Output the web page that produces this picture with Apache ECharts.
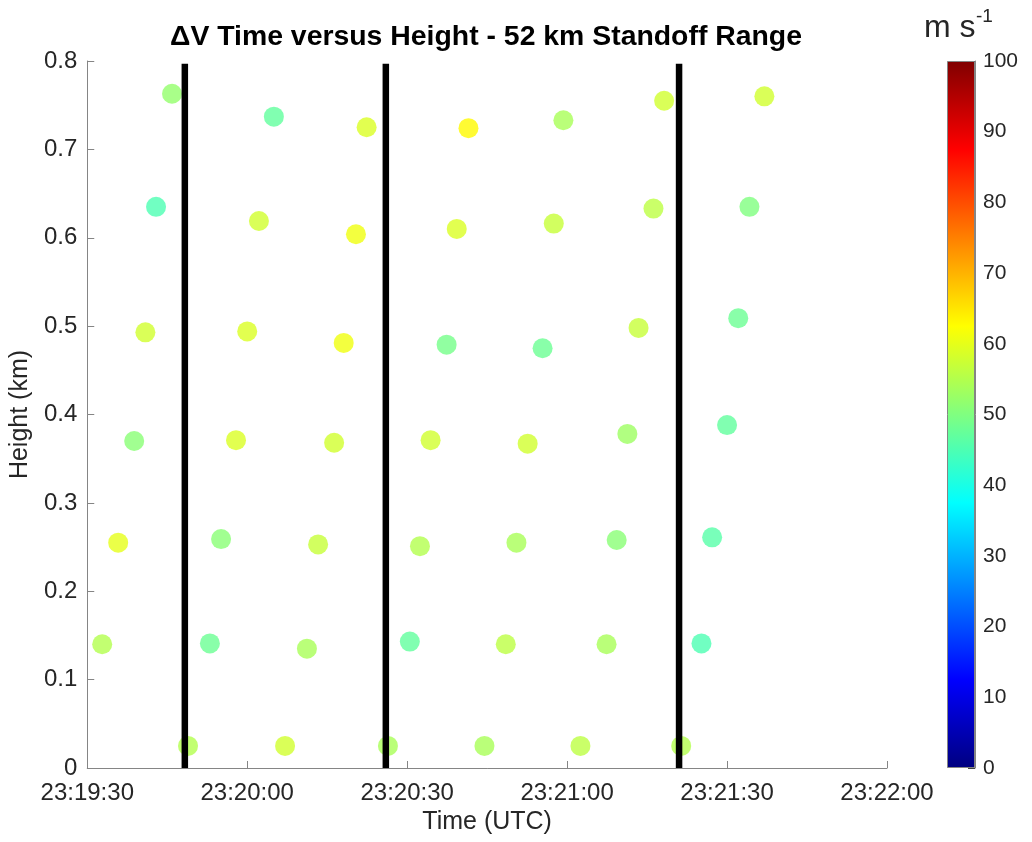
<!DOCTYPE html>
<html>
<head>
<meta charset="utf-8">
<script src="https://cdn.jsdelivr.net/npm/echarts@6/dist/echarts.min.js"></script>
<style>
html, body { margin: 0; padding: 0; background: #fff; }
#chart { width: 1032px; height: 842px; }
</style>
</head>
<body>
<div id="chart"></div>
<script>
// sample times (UTC), heights (km) and delta V (m/s), one row of heights at a time
var pointTimes = [
    '23:19:48.9', '23:20:07.1', '23:20:26.4', '23:20:44.5', '23:21:02.5', '23:21:21.4',
    '23:19:32.8', '23:19:53.0', '23:20:11.2', '23:20:30.5', '23:20:48.5', '23:21:07.4', '23:21:25.2',
    '23:19:35.8', '23:19:55.1', '23:20:13.3', '23:20:32.4', '23:20:50.5', '23:21:09.3', '23:21:27.2',
    '23:19:38.8', '23:19:57.9', '23:20:16.3', '23:20:34.4', '23:20:52.6', '23:21:11.3', '23:21:30.0',
    '23:19:40.9', '23:20:00.0', '23:20:18.1', '23:20:37.4', '23:20:55.4', '23:21:13.4', '23:21:32.1',
    '23:19:42.9', '23:20:02.2', '23:20:20.4', '23:20:39.3', '23:20:57.5', '23:21:16.2', '23:21:34.2',
    '23:19:45.9', '23:20:05.0', '23:20:22.4', '23:20:41.5', '23:20:59.3', '23:21:18.2', '23:21:37.0'
];
var pointHeights = [
    0.025, 0.025, 0.025, 0.025, 0.025, 0.025,
    0.140, 0.141, 0.135, 0.143, 0.140, 0.140, 0.141,
    0.255, 0.259, 0.253, 0.251, 0.255, 0.258, 0.261,
    0.370, 0.371, 0.368, 0.371, 0.367, 0.378, 0.388,
    0.493, 0.494, 0.481, 0.479, 0.475, 0.498, 0.509,
    0.635, 0.619, 0.604, 0.610, 0.616, 0.633, 0.635,
    0.763, 0.737, 0.725, 0.724, 0.733, 0.755, 0.760
];
var pointSpeeds = [
    55, 58, 54, 54, 56, 55,
    55, 48, 54, 47, 56, 54, 45,
    60, 51, 57, 55, 54, 51, 46,
    51, 59, 58, 58, 58, 53, 47,
    58, 59, 61, 49, 48, 57, 48,
    45, 58, 61, 59, 57, 56, 50,
    52, 47, 59, 63, 54, 58, 58
];
// black vertical markers
var cutTimes = ['23:19:48.3', '23:20:26.0', '23:21:21.0'];
var cutTop = 0.797;
var xTickLabels = ['23:19:30', '23:20:00', '23:20:30', '23:21:00', '23:21:30', '23:22:00'];
var jetColors = ['#000080', '#0000ff', '#0080ff', '#00ffff', '#80ff80', '#ffff00', '#ff8000', '#ff0000', '#800000'];

var FONT = 'Liberation Sans, Arial, Helvetica, sans-serif';
var AXIS_GRAY = '#858585';
var TEXT = '#262626';

function toSec(s) {
    var p = s.split(':');
    return +p[0] * 3600 + +p[1] * 60 + +p[2];
}
function pad(n) {
    return (n < 10 ? '0' : '') + n;
}
function fmtTime(v) {
    v = Math.round(v);
    return pad(Math.floor(v / 3600)) + ':' + pad(Math.floor(v % 3600 / 60)) + ':' + pad(v % 60);
}

var scatterData = [];
for (var i = 0; i < pointTimes.length; i++) {
    scatterData.push([toSec(pointTimes[i]), pointHeights[i], pointSpeeds[i]]);
}

var cutSeries = cutTimes.map(function (t) {
    return {
        type: 'line',
        xAxisIndex: 0,
        yAxisIndex: 0,
        data: [[toSec(t), 0], [toSec(t), cutTop]],
        symbol: 'none',
        silent: true,
        z: 5,
        lineStyle: { color: '#000', width: 6.5 }
    };
});

var gradStops = jetColors.map(function (c, k) {
    return { offset: 1 - k / (jetColors.length - 1), color: c };
}).reverse();

var option = {
    animation: false,
    backgroundColor: '#fff',
    textStyle: { fontFamily: FONT },
    title: {
        text: '\u0394V Time versus Height - 52 km Standoff Range',
        left: 486,
        textAlign: 'center',
        top: 23,
        padding: 0,
        textStyle: { fontFamily: FONT, fontSize: 28.4, fontWeight: 'bold', color: '#000' }
    },
    graphic: [{
        type: 'text',
        left: 924,
        top: 12,
        style: { text: 'm s', font: '32px ' + FONT, fill: TEXT }
    }, {
        type: 'text',
        left: 976,
        top: 7,
        style: { text: '-1', font: '19px ' + FONT, fill: TEXT }
    }],
    grid: [
        { left: 86, top: 61, width: 801, height: 707 },
        { left: 947, top: 61, width: 28, height: 707 }
    ],
    visualMap: {
        show: false,
        seriesIndex: 0,
        dimension: 2,
        min: 0,
        max: 100,
        inRange: { color: jetColors }
    },
    xAxis: [{
        gridIndex: 0,
        type: 'value',
        min: toSec(xTickLabels[0]),
        max: toSec(xTickLabels[xTickLabels.length - 1]),
        interval: 30,
        name: 'Time (UTC)',
        nameLocation: 'middle',
        nameGap: 42,
        nameTextStyle: { fontSize: 25, color: TEXT, fontFamily: FONT },
        axisLine: { show: true, lineStyle: { color: AXIS_GRAY, width: 1 } },
        axisTick: { show: true, inside: true, length: 7, lineStyle: { color: AXIS_GRAY } },
        axisLabel: { fontSize: 24, color: TEXT, margin: 13, formatter: fmtTime, fontFamily: FONT },
        splitLine: { show: false }
    }, {
        gridIndex: 1,
        type: 'category',
        data: [''],
        axisLine: { show: false },
        axisTick: { show: false },
        axisLabel: { show: false }
    }],
    yAxis: [{
        gridIndex: 0,
        type: 'value',
        min: 0,
        max: 0.8,
        interval: 0.1,
        name: 'Height (km)',
        nameLocation: 'middle',
        nameGap: 48,
        nameTextStyle: { fontSize: 25, color: TEXT, fontFamily: FONT },
        axisLine: { show: true, lineStyle: { color: AXIS_GRAY, width: 1 } },
        axisTick: { show: true, inside: true, length: 7, lineStyle: { color: AXIS_GRAY } },
        axisLabel: {
            fontSize: 24, color: TEXT, margin: 10, fontFamily: FONT,
            formatter: function (v) { return String(Math.round(v * 10) / 10); }
        },
        splitLine: { show: false }
    }, {
        gridIndex: 1,
        type: 'value',
        position: 'right',
        min: 0,
        max: 100,
        interval: 10,
        axisLine: { show: true, lineStyle: { color: AXIS_GRAY, width: 1 } },
        axisTick: { show: true, inside: true, length: 7, lineStyle: { color: '#444' } },
        axisLabel: { fontSize: 21, color: TEXT, margin: 8, fontFamily: FONT },
        splitLine: { show: false }
    }],
    series: [{
        type: 'scatter',
        xAxisIndex: 0,
        yAxisIndex: 0,
        symbolSize: 20,
        z: 3,
        data: scatterData
    }].concat(cutSeries).concat([{
        type: 'bar',
        xAxisIndex: 1,
        yAxisIndex: 1,
        barWidth: '100%',
        silent: true,
        data: [100],
        itemStyle: {
            color: { type: 'linear', x: 0, y: 0, x2: 0, y2: 1, colorStops: gradStops },
            borderColor: AXIS_GRAY,
            borderWidth: 1
        }
    }])
};

var myChart = echarts.init(document.getElementById('chart'));
myChart.setOption(option);
</script>
</body>
</html>
